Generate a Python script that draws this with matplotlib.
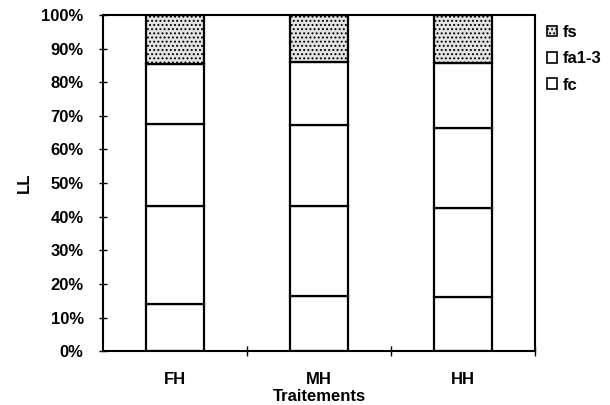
import matplotlib
matplotlib.use("Agg")
import matplotlib.pyplot as plt
import numpy as np
from matplotlib.patches import Patch

plt.rcParams['font.family'] = ['Liberation Sans', 'DejaVu Sans']
plt.rcParams['font.weight'] = 'bold'
plt.rcParams['hatch.color'] = '#9a9a9a'
plt.rcParams['hatch.linewidth'] = 0.9

categories = ["FH", "MH", "HH"]
series_names = ["f1", "f2", "fc", "fa1-3", "fs"]
# percentage share of each fraction, bottom to top
f1 = [14.0, 16.4, 16.0]
f2 = [29.2, 26.9, 26.6]
fc = [24.3, 23.9, 23.9]
fa13 = [17.8, 18.7, 19.3]
fs = [14.7, 14.1, 14.2]
series_values = [f1, f2, fc, fa13, fs]
y_ticks = [0, 10, 20, 30, 40, 50, 60, 70, 80, 90, 100]
y_tick_labels = [f"{v}%" for v in y_ticks]
legend_labels = ["fs", "fa1-3", "fc"]

FS = 12

fig = plt.figure(figsize=(6.1, 4.05), dpi=100)
ax = fig.add_axes([0.169, 0.133, 0.708, 0.830])

x = np.arange(len(categories))
bottom = np.zeros(len(categories))
for name, vals in zip(series_names, series_values):
    vals = np.array(vals)
    if name == "fs":
        ax.bar(x, vals, 0.4, bottom=bottom, facecolor='#e4e4e4',
               edgecolor='black', linewidth=1.6, hatch='....')
    else:
        ax.bar(x, vals, 0.4, bottom=bottom, facecolor='white',
               edgecolor='black', linewidth=1.6)
    bottom += vals

ax.set_xlim(-0.5, 2.5)
ax.set_ylim(0, 100)
ax.set_yticks(y_ticks)
ax.set_yticklabels(y_tick_labels, fontsize=FS, fontweight='bold')
ax.set_xticks(x)
ax.set_xticklabels(categories, fontsize=FS, fontweight='bold')
ax.set_xticks([0.5, 1.5, 2.5], minor=True)
ax.tick_params(axis='x', which='major', length=0, pad=15)
ax.tick_params(axis='x', which='minor', direction='inout', length=7, width=1)
ax.tick_params(axis='y', direction='inout', length=6, width=1, pad=11)

for sp in ax.spines.values():
    sp.set_linewidth(1.5)

ax.set_xlabel("Traitements", fontsize=FS, fontweight='bold', labelpad=1.5)
ax.set_ylabel("LL", fontsize=FS, fontweight='bold', labelpad=7)

handles = [
    Patch(facecolor='#e4e4e4', edgecolor='black', hatch='....', linewidth=1.2),
    Patch(facecolor='white', edgecolor='black', linewidth=1.2),
    Patch(facecolor='white', edgecolor='black', linewidth=1.2),
]
fig.legend(handles, legend_labels, loc='upper left',
           bbox_to_anchor=(0.886, 0.955), frameon=False,
           prop={'size': FS, 'weight': 'bold'},
           handlelength=0.6, handleheight=0.6, handletextpad=0.35,
           labelspacing=0.68, borderaxespad=0)

fig.savefig("out.png", dpi=100)
